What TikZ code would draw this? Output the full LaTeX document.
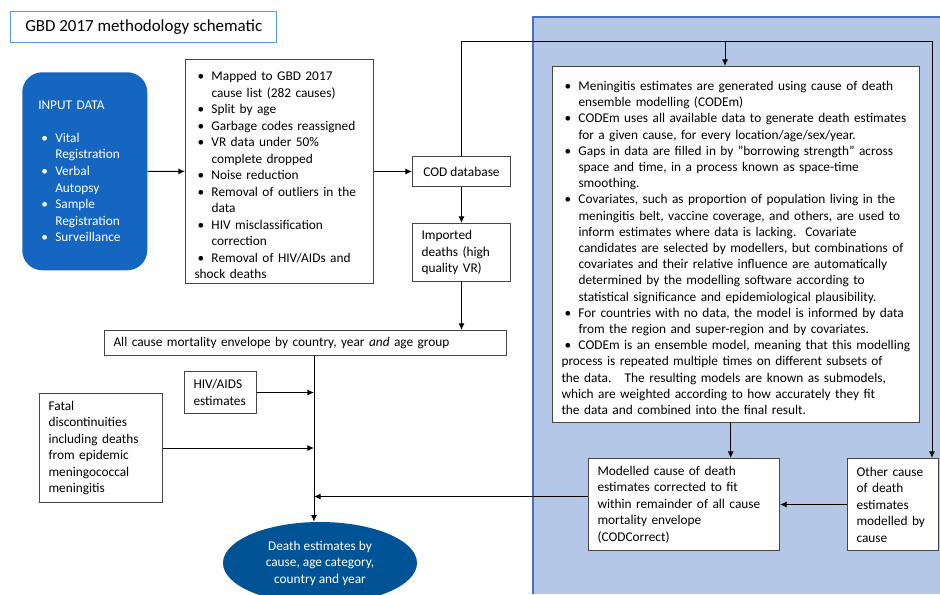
\documentclass[tikz,border=0pt]{standalone}
\usepackage{fontspec}
\setmainfont{Carlito}
\usetikzlibrary{arrows.meta,positioning,shapes.geometric,calc}
\definecolor{titleblue}{RGB}{91,155,213}
\definecolor{panelblue}{RGB}{180,199,231}
\definecolor{paneledge}{RGB}{68,114,196}
\definecolor{inputblue}{RGB}{21,102,192}
\definecolor{deathblue}{RGB}{0,84,150}
\definecolor{boxgrey}{RGB}{70,70,70}
\newcommand{\boxfont}{\fontsize{10}{12.4}\selectfont}
\newcommand{\bul}{\par\hangindent=12.75pt\hangafter=1\noindent\hbox to 12.75pt{\hspace{2.25pt}\textbullet\hfil}}
\tikzset{
    line/.style     = {-{Latex[length=5pt,width=4.5pt]}, draw=black, line width=0.75pt},
    block/.style    = {draw=boxgrey, fill=white, line width=0.75pt, anchor=north west,
            align=left, inner xsep=6.75pt, inner ysep=1pt, font=\boxfont},
    titleBox/.style = {draw=titleblue, fill=white, line width=1.1pt, anchor=north west,
            minimum width=199.5pt, minimum height=23.25pt,
            font=\fontsize{12.7}{15}\selectfont},
    inputBox/.style = {fill=inputblue, text=white, rounded corners=15pt, anchor=north west,
            minimum width=93.75pt, minimum height=148.5pt, text width=69.75pt,
            inner xsep=12pt, align=left, font=\boxfont},
    outcome/.style  = {ellipse, fill=deathblue, text=white, minimum width=145.5pt,
            minimum height=61.5pt, inner sep=0pt, align=center, font=\boxfont},
}

\begin{document}
\begin{tikzpicture}[x=0.75pt,y=-0.75pt]
    \path[use as bounding box, clip] (0,0) rectangle (940,594);
    % Background panel
    \fill[panelblue] (533,17) rectangle (940,594);
    \draw[paneledge, line width=1.3pt] (940,17) -- (533,17) -- (533,594);
    % Nodes
    \node[titleBox] (title) at (10,11) {GBD 2017 methodology schematic};
    \node[inputBox] (input) at (22,72) {INPUT DATA\par\vspace{12.4pt}
        \bul Vital\newline Registration
        \bul Verbal\newline Autopsy
        \bul Sample\newline Registration
        \bul Surveillance};
    \node[block, minimum width=141pt, minimum height=168pt, text width=127.5pt] (data) at (185,59) {%
        \bul Mapped to GBD 2017\newline cause list (282 causes)
        \bul Split by age
        \bul Garbage codes reassigned
        \bul VR data under 50\%\newline complete dropped
        \bul Noise reduction
        \bul Removal of outliers in the\newline data
        \bul HIV misclassification\newline correction
        \bul Removal of HIV/AIDs and\newline shock deaths};
    \node[block, minimum width=73.5pt, minimum height=22.5pt] (cod) at (412,156) {COD database};
    \node[block, below=27pt of cod, minimum width=73.5pt, minimum height=43.5pt, text width=60pt] (imported)
        {Imported\\deaths (high\\quality VR)};
    \node[block, minimum width=301.5pt, minimum height=18.75pt, text width=288pt] (envelope) at (104,330)
        {All cause mortality envelope by country, year \textit{and} age group};
    \node[block, minimum width=54pt, minimum height=31.5pt, text width=40.5pt] (hiv) at (184,371)
        {HIV/AIDS\\estimates};
    \node[block, minimum width=92.25pt, minimum height=81.75pt, text width=78.75pt] (fatal) at (39,393)
        {Fatal\\discontinuities\\including deaths\\from epidemic\\meningococcal\\meningitis};
    \node[block, minimum width=275.25pt, minimum height=267pt, text width=261.75pt,
        font=\fontsize{10}{12.15}\selectfont] (codem) at (552,66) {%
        \bul Meningitis estimates are generated using cause of death\newline ensemble modelling (CODEm)
        \bul CODEm uses all available data to generate death estimates\newline for a given cause, for every location/age/sex/year.
        \bul Gaps in data are filled in by "borrowing strength" across\newline space and time, in a process known as space-time\newline smoothing.
        \bul Covariates, such as proportion of population living in the\newline meningitis belt, vaccine coverage, and others, are used to\newline inform estimates where data is lacking.\ \ Covariate\newline candidates are selected by modellers, but combinations of\newline covariates and their relative influence are automatically\newline determined by the modelling software according to\newline statistical significance and epidemiological plausibility.
        \bul For countries with no data, the model is informed by data\newline from the region and super-region and by covariates.
        \bul CODEm is an ensemble model, meaning that this modelling\newline process is repeated multiple times on different subsets of\newline the data.\ \ \ The resulting models are known as submodels,\newline which are weighted according to how accurately they fit\newline the data and combined into the final result.};
    \node[block, minimum width=143.25pt, minimum height=69pt, text width=129.75pt] (modelled) at (588,458)
        {Modelled cause of death\\estimates corrected to fit\\within remainder of all cause\\mortality envelope\\(CODCorrect)};
    \node[block, minimum width=68.25pt, minimum height=69pt, text width=54.75pt] (other) at (847,458)
        {Other cause\\of death\\estimates\\modelled by\\cause};
    \node[outcome] (death) at (320,563) {Death estimates by\\cause, age category,\\country and year};
    % Arrows
    \coordinate (loop) at (932,41);
    \coordinate (drop) at (725,41);
    \coordinate (spine) at (314,0);
    \draw[line] (input) -- (data);
    \draw[line] (data) -- (cod);
    \draw[line] (cod) -- (imported);
    \draw[line] (imported) -- (imported |- envelope.north);
    \draw[line] (cod.north) |- (loop) -- (loop |- other.north);
    \draw[line] (drop) -- (drop |- codem.north);
    \draw[line] ([xshift=-4pt]codem.south) -- ([xshift=-4pt]codem.south |- modelled.north);
    \draw[line] (other) -- (modelled);
    \draw[line] ([yshift=6pt]modelled.west) -- ([yshift=6pt]modelled.west -| spine);
    \draw[line] (spine |- envelope.south) -- (spine |- death.north);
    \draw[line] (hiv) -- (hiv -| spine);
    \draw[line] (fatal) -- (fatal -| spine);
\end{tikzpicture}
\end{document}
